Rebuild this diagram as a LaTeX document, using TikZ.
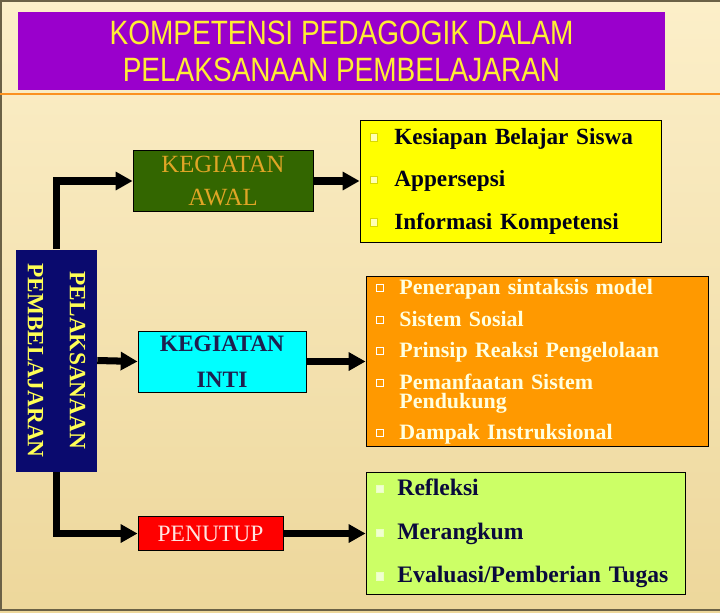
\documentclass[tikz,border=0pt]{standalone}
\usepackage{fontspec}
\usepackage{xcolor}
\setmainfont{Liberation Serif}
\newfontfamily\titlefont[FakeStretch=0.83]{Liberation Sans}
\usetikzlibrary{arrows.meta}

\definecolor{latar1}{HTML}{FCEFC9}
\definecolor{latar2}{HTML}{EDD79B}
\definecolor{ungu}{HTML}{9A00CC}
\definecolor{kuningjudul}{HTML}{FFEE33}
\definecolor{biru}{HTML}{0A0A6E}
\definecolor{kuningteks}{HTML}{FFFF55}
\definecolor{hijautua}{HTML}{336600}
\definecolor{emas}{HTML}{E0A526}
\definecolor{sian}{HTML}{00FFFF}
\definecolor{nila}{HTML}{1F1F4F}
\definecolor{merah}{HTML}{FF0000}
\definecolor{merahmuda}{HTML}{FFE4E1}
\definecolor{kuning}{HTML}{FFFF00}
\definecolor{oranye}{HTML}{FF9900}
\definecolor{krem}{HTML}{FFFFE0}
\definecolor{hijaumuda}{HTML}{CCFF66}
\definecolor{gelap}{HTML}{0A0A3C}

\newlength\px
\setlength\px{0.025cm}
% kotak kecil di depan tiap butir
\newcommand{\qbul}[2]{{\setlength\fboxsep{0pt}\setlength\fboxrule{0.7pt}\raisebox{0.3ex}{\fcolorbox{#1}{#2}{\rule{0pt}{4.6pt}\rule{4.6pt}{0pt}}}}}

\begin{document}
\begin{tikzpicture}[x=0.025cm,y=-0.025cm,
    kotak/.style={draw=black,line width=0.6pt,inner sep=0pt},
    daftar/.style={kotak,align=left,inner xsep=10\px},
    panah/.style={line width=5pt,-{Triangle[length=12pt,width=12.5pt]}}]
        \useasboundingbox (0,0) rectangle (720,612);
        \fill[top color=latar1,bottom color=latar2] (0,0) rectangle (720,612);
        \draw[color=black!55!latar2,line width=1.2pt] (720,1)--(1,1)--(1,610)--(720,610);
        \draw[color=orange!80!latar2,line width=0.8pt] (0,94)--(720,94);

        % judul
        \node[fill=ungu,minimum width=647\px,minimum height=78\px,inner sep=0pt,
              text=kuningjudul,align=center,font=\titlefont\fontsize{24}{26.3}\selectfont]
              (T) at (341.5,51) {KOMPETENSI PEDAGOGIK DALAM\\PELAKSANAAN PEMBELAJARAN};

        % kotak tegak
        \node[fill=biru,inner sep=0pt,rotate=-90,minimum width=222\px,minimum height=81\px,
              text=kuningteks,align=center,font=\fontsize{16.6}{30}\selectfont\bfseries]
              (PL) at (56.5,360.5) {PELAKSANAAN\\PEMBELAJARAN};

        % tiga kegiatan
        \node[kotak,fill=hijautua,minimum width=180\px,minimum height=61\px,text=emas,
              align=center,font=\fontsize{17.6}{23.5}\selectfont]
              (AW) at (223,181) {KEGIATAN\\AWAL};
        \node[kotak,fill=sian,minimum width=168\px,minimum height=61\px,text=nila,
              align=center,font=\fontsize{16.7}{25.6}\selectfont\bfseries]
              (IN) at (222,361.5) {KEGIATAN\\INTI};
        \node[kotak,fill=merah,minimum width=145\px,minimum height=34\px,text=merahmuda,
              font=\fontsize{16.7}{20}\selectfont]
              (PN) at (210.5,533.5) {PENUTUP};

        % rincian
        \node[daftar,fill=kuning,text=black!90!blue,text width=281\px,minimum height=122\px,
              font=\fontsize{16.5}{30.2}\selectfont\bfseries]
              (AWa) at (510.5,181) {%
              \qbul{black!15!kuning}{kuning!30!white}\hspace{16\px}Kesiapan Belajar Siswa\\
              \qbul{black!15!kuning}{kuning!30!white}\hspace{16\px}Appersepsi\\
              \qbul{black!15!kuning}{kuning!30!white}\hspace{16\px}Informasi Kompetensi};
        \node[daftar,fill=oranye,text=krem,text width=322\px,minimum height=170\px,
              font=\fontsize{15.6}{22.4}\selectfont\bfseries]
              (INa) at (537,361.5) {%
              \qbul{white}{oranye}\hspace{15\px}Penerapan sintaksis model\\
              \qbul{white}{oranye}\hspace{15\px}Sistem Sosial\\
              \qbul{white}{oranye}\hspace{15\px}Prinsip Reaksi Pengelolaan\\
              \qbul{white}{oranye}\hspace{15\px}Pemanfaatan Sistem\\[-8.4pt]
              \hphantom{\qbul{white}{oranye}}\hspace{15\px}Pendukung\\[-0.8pt]
              \qbul{white}{oranye}\hspace{15\px}Dampak Instruksional};
        \node[daftar,fill=hijaumuda,text=gelap,text width=299\px,minimum height=122\px,
              font=\fontsize{16.8}{31}\selectfont\bfseries]
              (PNa) at (525.5,533.5) {%
              \qbul{hijaumuda!40!white}{hijaumuda!30!white}\hspace{13\px}Refleksi\\
              \qbul{hijaumuda!40!white}{hijaumuda!30!white}\hspace{13\px}Merangkum\\
              \qbul{hijaumuda!40!white}{hijaumuda!30!white}\hspace{13\px}Evaluasi/Pemberian Tugas};

        \draw[panah] (PL.west) |- (AW.west);
        \draw[panah] (PL.north) -- (IN.west);
        \draw[panah] (PL.east) |- (PN.west);
        \draw[panah] (AW.east) -- (AWa.west);
        \draw[panah] (IN.east) -- (INa.west);
        \draw[panah] (PN.east) -- (PNa.west);
\end{tikzpicture}
\end{document}
